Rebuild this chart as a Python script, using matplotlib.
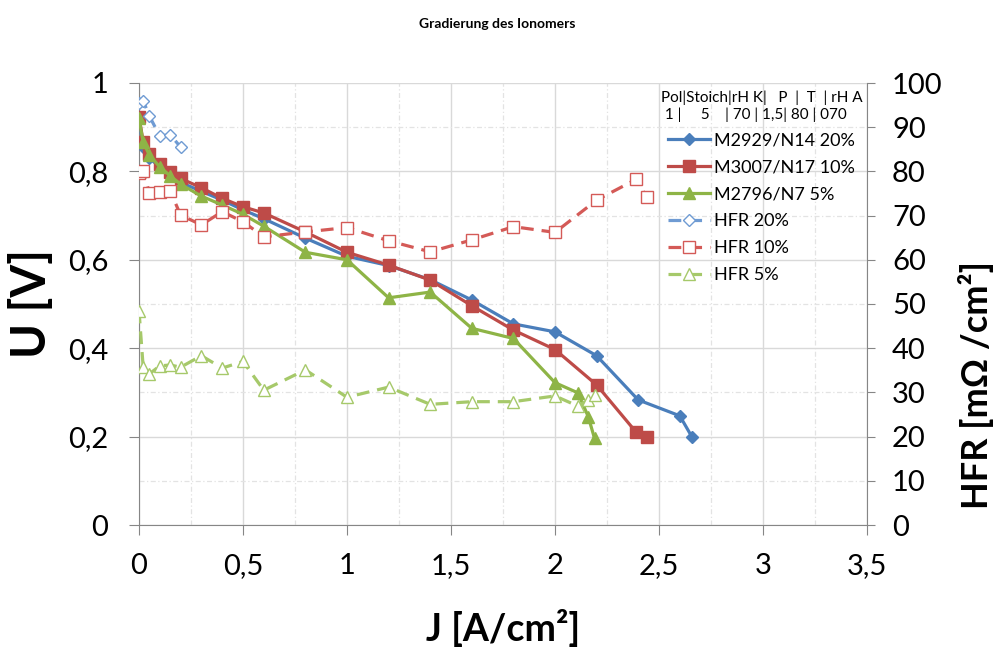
import matplotlib
matplotlib.use("Agg")
import matplotlib.pyplot as plt
from matplotlib.ticker import MultipleLocator, FuncFormatter

plt.rcParams['font.family'] = ['Lato', 'DejaVu Sans']

# Stromdichte J [A/cm²] und Spannung U [V]
J_20 = [0, 0.02, 0.05, 0.1, 0.15, 0.2, 0.3, 0.4, 0.5, 0.6, 0.8, 1.0, 1.2, 1.4, 1.6, 1.8, 2.0, 2.2, 2.4, 2.6, 2.66]
U_20 = [0.92, 0.855, 0.83, 0.81, 0.795, 0.775, 0.755, 0.735, 0.713, 0.693, 0.649, 0.608, 0.587, 0.555,
        0.509, 0.455, 0.437, 0.383, 0.283, 0.247, 0.198]

J_10 = [0, 0.02, 0.05, 0.1, 0.15, 0.2, 0.3, 0.4, 0.5, 0.6, 0.8, 1.0, 1.2, 1.4, 1.6, 1.8, 2.0, 2.2, 2.39, 2.44]
U_10 = [0.924, 0.867, 0.839, 0.817, 0.799, 0.784, 0.763, 0.739, 0.72, 0.706, 0.663, 0.617, 0.588, 0.554,
        0.496, 0.441, 0.397, 0.317, 0.21, 0.2]

J_5 = [0, 0.02, 0.05, 0.1, 0.15, 0.2, 0.3, 0.4, 0.5, 0.6, 0.8, 1.0, 1.2, 1.4, 1.6, 1.8, 2.0, 2.11, 2.16, 2.19]
U_5 = [0.92, 0.866, 0.837, 0.81, 0.79, 0.771, 0.744, 0.724, 0.703, 0.676, 0.617, 0.6, 0.514, 0.527,
       0.445, 0.422, 0.322, 0.299, 0.245, 0.196]

# HFR [mOhm/cm²]
J_hfr20 = [0, 0.02, 0.05, 0.1, 0.15, 0.2]
HFR_20 = [95.5, 96, 92.5, 88, 88.3, 85.5]
HFR_10 = [79.6, 80.1, 75.2, 75.4, 75.6, 70.1, 67.9, 70.9, 68.6, 65.2, 66.3, 67.3, 64.3, 61.8,
          64.5, 67.5, 66.2, 73.5, 78.2, 74.2]
HFR_5 = [48.5, 35.8, 34.2, 36, 36.2, 35.7, 38.3, 35.5, 37, 30.5, 35.1, 28.9, 31.2, 27.3,
         27.9, 27.9, 29.2, 26.9, 28.3, 29.4]

blue = '#4A7EBB'
red = '#BE4B48'
green = '#8EB446'
blue_l = '#6F9BD3'
red_l = '#D45A57'
green_l = '#A6C96A'
axcol = '#868686'
dash = (0, (4, 2.5))

fig = plt.figure(figsize=(9.94, 6.47), dpi=100)
ax = fig.add_axes([139/994, 122/647, 728/994, 442/647])
ax2 = ax.twinx()

l1, = ax.plot(J_20, U_20, color=blue, lw=2.3, marker='D', ms=6, zorder=3)
l2, = ax.plot(J_10, U_10, color=red, lw=2.3, marker='s', ms=8, zorder=3)
l3, = ax.plot(J_5, U_5, color=green, lw=2.3, marker='^', ms=8, zorder=3)

h1, = ax2.plot(J_hfr20, HFR_20, color=blue_l, lw=2.3, ls=dash, marker='D', ms=6,
               mfc='white', mec=blue_l, mew=1)
h2, = ax2.plot(J_10, HFR_10, color=red_l, lw=2.3, ls=dash, marker='s', ms=8,
               mfc='white', mec=red_l, mew=1)
h3, = ax2.plot(J_5, HFR_5, color=green_l, lw=2.3, ls=dash, marker='^', ms=8,
               mfc='white', mec=green_l, mew=1)

ax.set_xlim(0, 3.5)
ax.set_ylim(0, 1)
ax2.set_ylim(0, 100)

ax.xaxis.set_major_locator(MultipleLocator(0.5))
ax.xaxis.set_minor_locator(MultipleLocator(0.25))
ax.yaxis.set_major_locator(MultipleLocator(0.2))
ax.yaxis.set_minor_locator(MultipleLocator(0.1))
ax2.yaxis.set_major_locator(MultipleLocator(10))

comma = FuncFormatter(lambda v, p: ('%g' % round(v, 3)).replace('.', ','))
ax.xaxis.set_major_formatter(comma)
ax.yaxis.set_major_formatter(comma)

ax.grid(which='major', color='#D9D9D9', lw=1, ls='-')
ax.grid(which='minor', color='#E3E3E3', lw=0.9, ls=(0, (4, 2, 1, 2)))
ax.set_axisbelow(True)

for a in (ax, ax2):
    for s in a.spines.values():
        s.set_color(axcol)
    a.spines['top'].set_visible(False)
ax.spines['right'].set_visible(False)
ax2.spines['left'].set_visible(False)
ax2.spines['bottom'].set_visible(False)

ax.tick_params(which='major', direction='out', length=7, color=axcol, labelsize=21, pad=15)
ax.tick_params(which='minor', length=0)
ax.tick_params(axis='x', pad=13)
ax2.tick_params(which='major', direction='out', length=6, color=axcol, labelsize=21, pad=12)

ax.set_ylabel('U [V]', fontsize=34, fontweight='bold', va='center')
ax.yaxis.set_label_coords(-0.148, 0.5)
ax.set_xlabel('J [A/cm²]', fontsize=27, fontweight='bold', va='center')
ax.xaxis.set_label_coords(0.5, -0.232)
ax2.set_ylabel('HFR [mΩ /cm²]', fontsize=26, fontweight='bold', rotation=90, va='center')
ax2.yaxis.set_label_coords(1.15, 0.317)

fig.text(0.5, 0.963, 'Gradierung des Ionomers', ha='center', va='center', fontsize=10, fontweight='bold')

leg = ax2.legend([l1, l2, l3, h1, h2, h3],
                 ['M2929/N14 20%', 'M3007/N17 10%', 'M2796/N7 5%', 'HFR 20%', 'HFR 10%', 'HFR 5%'],
                 title='Pol|Stoich|rH K|   P  |  T  | rH A\n 1 |     5    | 70 | 1,5| 80 | 070',
                 loc='upper left', bbox_to_anchor=(648/994, 1 - 78/647), bbox_transform=fig.transFigure,
                 frameon=False, fontsize=13, title_fontsize=11, numpoints=1, handlelength=2.3,
                 handletextpad=0.2, labelspacing=0.6, borderpad=0.2)
leg.get_title().set_multialignment('left')

fig.savefig('out.png', dpi=100)
